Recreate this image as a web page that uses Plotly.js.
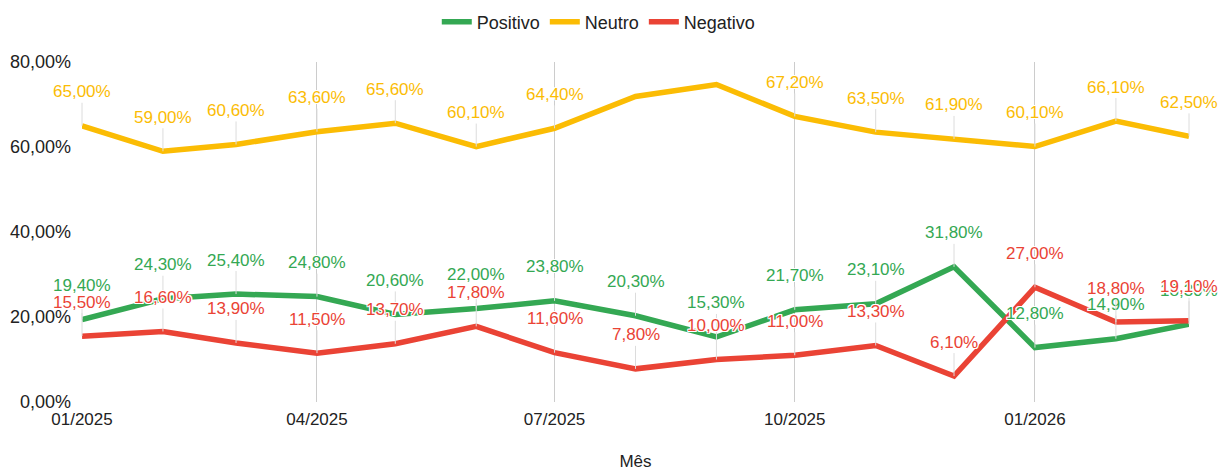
<!DOCTYPE html>
<html>
<head>
<meta charset="utf-8">
<script src="https://cdn.plot.ly/plotly-3.0.1.min.js"></script>
<style>html,body{margin:0;padding:0;background:#fff;}#chart{width:1222px;height:471px;}</style>
</head>
<body>
<div id="chart"></div>
<script>
const months = ['2025-01-01','2025-02-01','2025-03-01','2025-04-01','2025-05-01','2025-06-01','2025-07-01','2025-08-01','2025-09-01','2025-10-01','2025-11-01','2025-12-01','2026-01-01','2026-02-01','2026-03-01'];
const positivo = [19.4, 24.3, 25.4, 24.8, 20.6, 22.0, 23.8, 20.3, 15.3, 21.7, 23.1, 31.8, 12.8, 14.9, 18.3];
const neutro   = [65.0, 59.0, 60.6, 63.6, 65.6, 60.1, 64.4, 71.9, 74.7, 67.2, 63.5, 61.9, 60.1, 66.1, 62.5];
const negativo = [15.5, 16.6, 13.9, 11.5, 13.7, 17.8, 11.6, 7.8, 10.0, 11.0, 13.3, 6.1, 27.0, 18.8, 19.1];
const seriesNames = ['Positivo', 'Neutro', 'Negativo'];
const seriesColors = ['#34a853', '#fbbc04', '#ea4335'];
const yTicks = [0, 20, 40, 60, 80];

const FONT = 'Liberation Sans, Arial, sans-serif';
const fmt = v => v.toFixed(2).replace('.', ',') + '%';
const allSeries = [positivo, neutro, negativo];

const traces = allSeries.map((vals, i) => ({
  type: 'scatter', mode: 'lines', name: seriesNames[i],
  x: months, y: vals,
  line: {color: seriesColors[i], width: 5.5},
  hoverinfo: 'skip'
}));

const halo = '1px 1px 0 #fff, -1px -1px 0 #fff, 1px -1px 0 #fff, -1px 1px 0 #fff, 0 1px 0 #fff, 0 -1px 0 #fff, 1px 0 0 #fff, -1px 0 0 #fff';
const annotations = [];
[1, 0, 2].forEach(i => {
  allSeries[i].forEach((v, k) => {
    if (v > 70) return; // label would not fit under the top of the plot
    annotations.push({
      x: months[k], y: v, xref: 'x', yref: 'y',
      text: fmt(v), showarrow: true, arrowhead: 0, arrowwidth: 1,
      arrowcolor: '#dcdcdc', ax: 0, ay: -34, standoff: 0,
      font: {family: FONT, size: 17, color: seriesColors[i], shadow: halo}
    });
  });
});

const layout = {
  width: 1222, height: 471,
  margin: {l: 82, r: 33, t: 62, b: 69},
  paper_bgcolor: '#fff', plot_bgcolor: '#fff',
  separators: ',.',
  font: {family: FONT, size: 17, color: '#222'},
  showlegend: true,
  legend: {orientation: 'h', x: 0.49, xanchor: 'center', xref: 'container',
           y: 1 - 22 / 471, yanchor: 'middle', yref: 'container',
           font: {family: FONT, size: 18, color: '#222'}, itemwidth: 30, traceorder: 'normal'},
  xaxis: {
    type: 'date', range: [months[0], months[months.length - 1]],
    tick0: months[0], dtick: 'M3', tickformat: '%m/%Y',
    showgrid: true, gridcolor: '#cccccc', gridwidth: 1,
    zeroline: false, showline: false, ticks: '',
    ticklabelstandoff: 5,
    tickfont: {family: FONT, size: 17, color: '#222'},
    title: {text: 'Mês', font: {family: FONT, size: 17, color: '#222'}, standoff: 30},
    automargin: false
  },
  yaxis: {
    range: [0, 80], tickvals: yTicks, ticktext: yTicks.map(fmt),
    showgrid: false, zeroline: false, showline: false, ticks: '',
    ticklabelstandoff: 10,
    tickfont: {family: FONT, size: 18, color: '#222'},
    automargin: false
  },
  annotations: annotations
};

Plotly.newPlot('chart', traces, layout, {displayModeBar: false, staticPlot: true});
</script>
</body>
</html>
